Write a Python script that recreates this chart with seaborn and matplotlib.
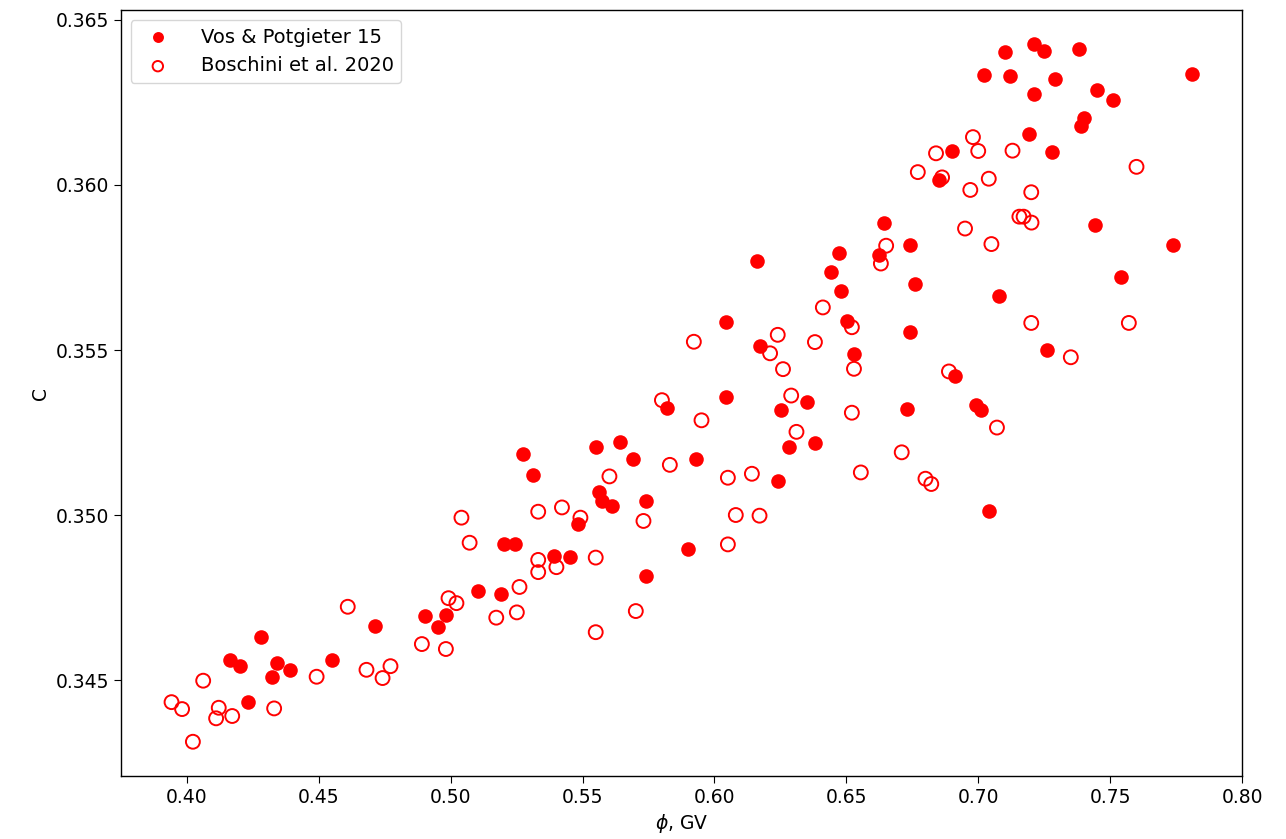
import matplotlib
matplotlib.use("Agg")
import matplotlib.pyplot as plt
import numpy as np
import pandas as pd
import seaborn as sns

# Vos & Potgieter 15 (filled markers)
vos_phi = [0.4163, 0.4202, 0.4282, 0.4341, 0.4322, 0.4392, 0.4232, 0.4552, 0.4712, 0.4901,
           0.4951, 0.4982, 0.5102, 0.5191, 0.5203, 0.5243, 0.5273, 0.5312, 0.5391, 0.5452,
           0.5481, 0.5552, 0.5562, 0.5572, 0.5612, 0.5642, 0.5691, 0.5741, 0.5741, 0.5822,
           0.5901, 0.5931, 0.6042, 0.6042, 0.6162, 0.6171, 0.6240, 0.6252, 0.6281, 0.6351,
           0.6381, 0.6441, 0.6472, 0.6481, 0.6501, 0.6530, 0.6641, 0.6622, 0.6741, 0.6741,
           0.6761, 0.6731, 0.6852, 0.6900, 0.6911, 0.6990, 0.7011, 0.7041, 0.7080, 0.7021,
           0.7101, 0.7121, 0.7211, 0.7250, 0.7381, 0.7290, 0.7811, 0.7211, 0.7451, 0.7511,
           0.7400, 0.7390, 0.7192, 0.7280, 0.7441, 0.7740, 0.7541, 0.7261]
vos_c = [0.34561, 0.34542, 0.34631, 0.34552, 0.34509, 0.34529, 0.34433, 0.34560, 0.34665, 0.34695,
         0.34662, 0.34698, 0.34771, 0.34761, 0.34913, 0.34912, 0.35185, 0.35121, 0.34876, 0.34873,
         0.34972, 0.35205, 0.35071, 0.35043, 0.35027, 0.35222, 0.35170, 0.35042, 0.34816, 0.35323,
         0.34898, 0.35171, 0.35586, 0.35358, 0.35771, 0.35511, 0.35103, 0.35317, 0.35205, 0.35343,
         0.35217, 0.35736, 0.35793, 0.35679, 0.35589, 0.35489, 0.35884, 0.35788, 0.35817, 0.35555,
         0.35701, 0.35322, 0.36016, 0.36103, 0.35422, 0.35334, 0.35319, 0.35013, 0.35664, 0.36333,
         0.36403, 0.36329, 0.36426, 0.36406, 0.36411, 0.36322, 0.36337, 0.36275, 0.36287, 0.36258,
         0.36202, 0.36179, 0.36155, 0.36101, 0.35879, 0.35818, 0.35721, 0.35501]

# Boschini et al. 2020 (open markers)
bos_phi = [0.3942, 0.3982, 0.4062, 0.4111, 0.4121, 0.4023, 0.4172, 0.4331, 0.4492, 0.4610,
           0.4681, 0.4742, 0.4772, 0.4891, 0.4982, 0.4992, 0.5022, 0.5041, 0.5072, 0.5173,
           0.5251, 0.5261, 0.5332, 0.5332, 0.5332, 0.5401, 0.5422, 0.5492, 0.5550, 0.5550,
           0.5602, 0.5702, 0.5731, 0.5801, 0.5831, 0.5922, 0.5951, 0.6051, 0.6051, 0.6081,
           0.6142, 0.6171, 0.6211, 0.6240, 0.6260, 0.6291, 0.6311, 0.6381, 0.6411, 0.6521,
           0.6521, 0.6529, 0.6555, 0.6651, 0.6631, 0.6710, 0.6771, 0.6800, 0.6822, 0.6840,
           0.6863, 0.6889, 0.6950, 0.6970, 0.6980, 0.7000, 0.7040, 0.7050, 0.7071, 0.7130,
           0.7156, 0.7172, 0.7201, 0.7202, 0.7201, 0.7351, 0.7571, 0.7600]
bos_c = [0.34433, 0.34412, 0.34498, 0.34384, 0.34416, 0.34313, 0.34391, 0.34414, 0.34510, 0.34722,
         0.34531, 0.34506, 0.34542, 0.34609, 0.34594, 0.34748, 0.34733, 0.34992, 0.34916, 0.34689,
         0.34705, 0.34782, 0.35010, 0.34864, 0.34827, 0.34842, 0.35023, 0.34992, 0.34871, 0.34645,
         0.35117, 0.34709, 0.34982, 0.35348, 0.35152, 0.35525, 0.35287, 0.35113, 0.34911, 0.35000,
         0.35125, 0.34998, 0.35490, 0.35546, 0.35442, 0.35362, 0.35252, 0.35524, 0.35629, 0.35569,
         0.35310, 0.35443, 0.35129, 0.35816, 0.35762, 0.35190, 0.36039, 0.35110, 0.35094, 0.36096,
         0.36023, 0.35435, 0.35868, 0.35985, 0.36145, 0.36103, 0.36019, 0.35821, 0.35265, 0.36104,
         0.35904, 0.35904, 0.35978, 0.35886, 0.35582, 0.35478, 0.35582, 0.36055]

x_ticks = [0.40, 0.45, 0.50, 0.55, 0.60, 0.65, 0.70, 0.75, 0.80]
y_ticks = [0.345, 0.350, 0.355, 0.360, 0.365]

plt.rcParams['font.size'] = 13.5

fig = plt.figure(figsize=(12.86, 8.39), dpi=100)
ax = fig.add_axes([0.094, 0.075, 0.8718, 0.913])

vos_df = pd.DataFrame({'phi': vos_phi, 'C': vos_c})
bos_df = pd.DataFrame({'phi': bos_phi, 'C': bos_c})

sns.scatterplot(data=vos_df, x='phi', y='C', ax=ax, marker='o', s=110,
                color='red', linewidth=0, label='Vos & Potgieter 15')
sns.scatterplot(data=bos_df, x='phi', y='C', ax=ax, marker='o', s=100,
                facecolor='none', edgecolor='red', linewidth=1.4,
                label='Boschini et al. 2020')

ax.set_xlim(0.375, 0.80)
ax.set_ylim(0.34209, 0.3653)
ax.set_xticks(x_ticks)
ax.set_xticklabels([f'{t:.2f}' for t in x_ticks])
ax.set_yticks(y_ticks)
ax.set_yticklabels([f'{t:.3f}' for t in y_ticks])
ax.set_xlabel(r'$\phi$, GV')
ax.set_ylabel('C')
ax.tick_params(length=5)
for sp in ax.spines.values():
    sp.set_color('black')
    sp.set_linewidth(1.0)

ax.legend(loc='upper left', fontsize=14, markerscale=0.75, handletextpad=1.2)

plt.savefig('out.png', dpi=100)
plt.close()
